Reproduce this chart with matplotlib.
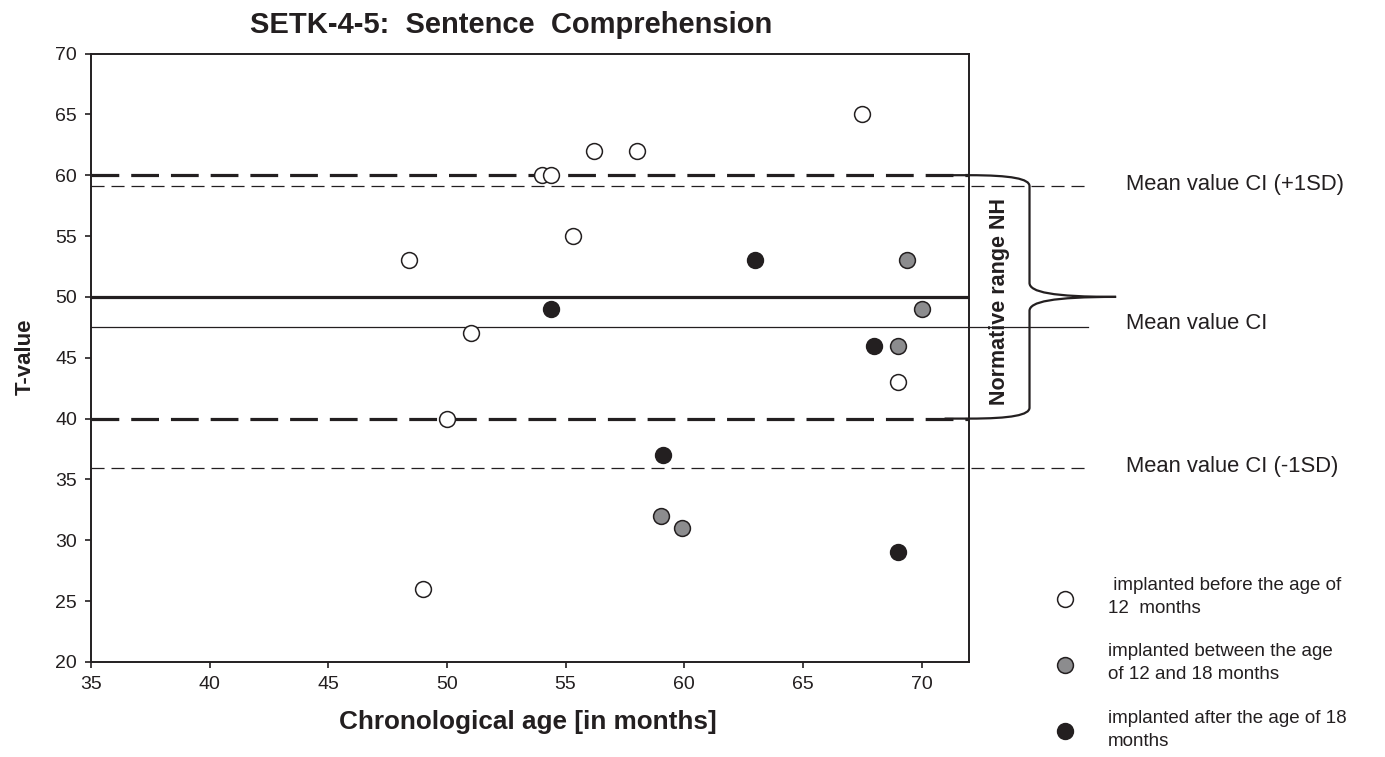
import matplotlib
matplotlib.use("Agg")
from matplotlib import pyplot as plt
from matplotlib.path import Path
from matplotlib.patches import PathPatch

plt.rcParams['font.family'] = ['Liberation Sans', 'DejaVu Sans']
plt.rcParams['lines.scale_dashes'] = False

# ---- data ----
# implanted before 12 months (open circles)
before_age = [48.4, 51.0, 50.0, 49.0, 54.0, 54.4, 55.3, 56.2, 58.0, 67.5, 69.0]
before_t = [53, 47, 40, 26, 60, 60, 55, 62, 62, 65, 43]
# implanted between 12 and 18 months (grey)
between_age = [69.4, 70.0, 69.0, 59.0, 59.9]
between_t = [53, 49, 46, 32, 31]
# implanted after 18 months (black)
after_age = [63.0, 54.4, 68.0, 59.1, 69.0]
after_t = [53, 49, 46, 37, 29]

# normative range of normal hearing children and CI group mean +/- 1SD
nh_low, nh_mean, nh_high = 40, 50, 60
ci_low, ci_mean, ci_high = 35.9, 47.5, 59.1

x_ticks = [35, 40, 45, 50, 55, 60, 65, 70]
y_ticks = [20, 25, 30, 35, 40, 45, 50, 55, 60, 65, 70]
legend_labels = [" implanted before the age of\n12  months",
                 "implanted between the age\nof 12 and 18 months",
                 "implanted after the age of 18\nmonths"]
ci_labels = ["Mean value CI (+1SD)", "Mean value CI", "Mean value CI (-1SD)"]

ink = '#231f20'
grey = '#8c8c8e'

fig = plt.figure(figsize=(13.85, 7.57), dpi=100)
ax = fig.add_axes([91 / 1385, 1 - 662 / 757, 878 / 1385, 608.5 / 757])
ax.set_xlim(35, 72)
ax.set_ylim(20, 70)

# normative range lines
ax.axhline(nh_high, color=ink, lw=2.3, dashes=(20, 8.6), zorder=2)
ax.axhline(nh_low, color=ink, lw=2.3, dashes=(20, 8.6), zorder=2)
ax.axhline(nh_mean, color=ink, lw=2.3, zorder=2)

# CI lines, running out past the right edge
x_end = 77.0
ax.plot([35, x_end], [ci_high, ci_high], color=ink, lw=0.9, dashes=(9.4, 5.0), clip_on=False, zorder=2)
ax.plot([35, x_end], [ci_mean, ci_mean], color=ink, lw=0.9, clip_on=False, zorder=2)
ax.plot([35, x_end], [ci_low, ci_low], color=ink, lw=0.9, dashes=(9.4, 5.0), clip_on=False, zorder=2)
for lab, yv, dy in zip(ci_labels, [ci_high, ci_mean, ci_low], [0.1, 0.35, 0.15]):
    ax.text(78.6, yv + dy, lab, fontsize=15.8, color=ink, ha='left', va='center', clip_on=False)

# curly brace for the normative range
bx0, bx1, bv, btip = 70.97, 72.0, 74.55, 78.2
verts = [(bx0, nh_high), (bx1, nh_high),
         (73.8, nh_high), (bv, nh_high - 0.3), (bv, nh_high - 0.9),
         (bv, nh_mean + 1.15),
         (bv, nh_mean + 0.4), (75.5, nh_mean), (btip, nh_mean),
         (75.5, nh_mean), (bv, nh_mean - 0.4), (bv, nh_mean - 1.15),
         (bv, nh_low + 0.9),
         (bv, nh_low + 0.3), (73.8, nh_low), (bx1, nh_low),
         (bx0, nh_low)]
codes = [Path.MOVETO, Path.LINETO,
         Path.CURVE4, Path.CURVE4, Path.CURVE4,
         Path.LINETO,
         Path.CURVE4, Path.CURVE4, Path.CURVE4,
         Path.CURVE4, Path.CURVE4, Path.CURVE4,
         Path.LINETO,
         Path.CURVE4, Path.CURVE4, Path.CURVE4,
         Path.LINETO]
ax.add_patch(PathPatch(Path(verts, codes), fill=False, ec=ink, lw=1.6, clip_on=False, zorder=3))
ax.text(73.3, 49.6, "Normative range NH", rotation=90, fontsize=15.5, fontweight='bold',
        color=ink, ha='center', va='center', clip_on=False)

# points
ms = 130
h1 = ax.scatter(before_age, before_t, s=ms, facecolor='white', edgecolor=ink, linewidth=1.1, zorder=4)
h2 = ax.scatter(between_age, between_t, s=ms, facecolor=grey, edgecolor=ink, linewidth=1.1, zorder=4)
h3 = ax.scatter(after_age, after_t, s=ms, facecolor=ink, edgecolor=ink, linewidth=1.1, zorder=4)

ax.set_xticks(x_ticks)
ax.set_yticks(y_ticks)
ax.tick_params(direction='out', length=4, width=1.2, labelsize=14, colors=ink, pad=6)
for sp in ax.spines.values():
    sp.set_linewidth(1.4)
    sp.set_color(ink)

fig.text(511 / 1385, 1 - 25 / 757, "SETK-4-5:  Sentence  Comprehension", fontsize=21,
         fontweight='bold', color=ink, ha='center', va='center')
fig.text(528 / 1385, 1 - 722 / 757, "Chronological age [in months]", fontsize=18.8,
         fontweight='bold', color=ink, ha='center', va='center')
fig.text(25 / 1385, 1 - 357 / 757, "T-value", fontsize=16, fontweight='bold', color=ink,
         rotation=90, ha='center', va='center')

leg = fig.legend([h1, h2, h3], legend_labels, loc='upper left', bbox_to_anchor=(1051 / 1385, 1 - 577 / 757),
                 frameon=False, fontsize=13.5, labelspacing=1.42, handlelength=1.5, handletextpad=1.55,
                 borderpad=0, borderaxespad=0, labelcolor=ink)
for t in leg.get_texts():
    t.set_linespacing(1.45)

fig.savefig("out.png", dpi=100)
